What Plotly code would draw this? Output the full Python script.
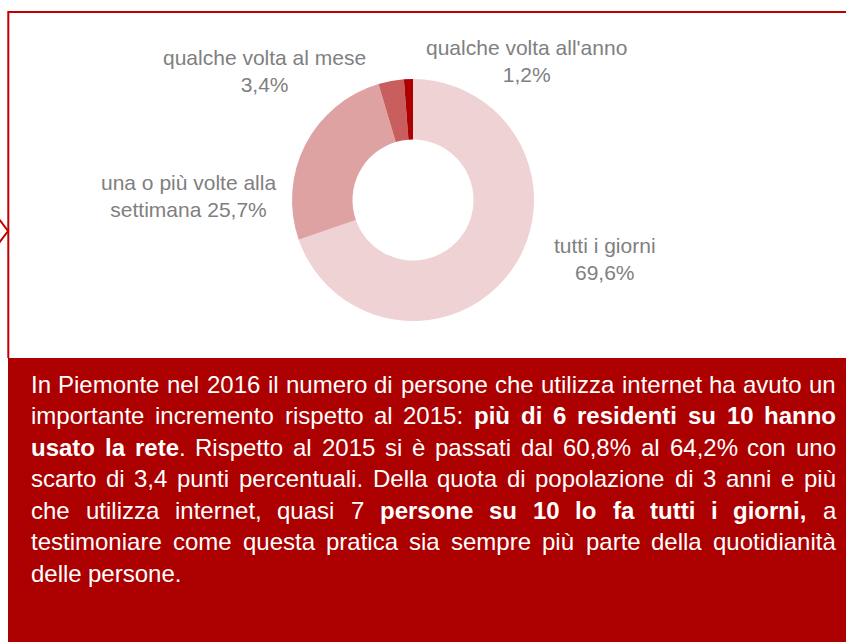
import plotly.graph_objects as go

# ---- data ---------------------------------------------------------------
categories = ["tutti i giorni", "una o più volte alla settimana",
              "qualche volta al mese", "qualche volta all'anno"]
shares = [69.6, 25.7, 3.4, 1.2]
slice_colors = ["#EFD2D3", "#DFA2A2", "#C85E5E", "#AE0000"]
# how each slice label wraps ({v} is replaced by the formatted share)
label_templates = ["tutti i giorni<br>{v}",
                   "una o più volte alla<br>settimana {v}",
                   "qualche volta al mese<br>{v}",
                   "qualche volta all'anno<br>{v}"]

paragraph_lines = [
    "In Piemonte nel 2016 il numero di persone che utilizza internet ha avuto un",
    "importante incremento rispetto al 2015: <b>più di 6 residenti su 10 hanno</b>",
    "<b>usato la rete</b>. Rispetto al 2015 si è passati dal 60,8% al 64,2% con uno",
    "scarto di 3,4 punti percentuali. Della quota di popolazione di 3 anni e più",
    "che utilizza internet, quasi 7 <b>persone su 10 lo fa tutti i giorni,</b> a",
    "testimoniare come questa pratica sia sempre più parte della quotidianità",
    "delle persone.",
]

# ---- layout constants (pixels) -------------------------------------------
W, H = 846, 642
FRAME_RED = "#C00000"
BOX_RED = "#AC0000"
LABEL_GREY = "#808080"
FONT = "Liberation Sans, Arial, sans-serif"
BODY_SIZE = 24
LABEL_SIZE = 21

# donut placement: centre and outer radius
CX, CY, R = 413, 200, 121

# label anchor points (centre of each two-line label)
label_pos = [(605, 259), (188, 196), (264, 71), (526, 61)]

# paragraph geometry
TEXT_LEFT, TEXT_RIGHT = 31, 836
FIRST_LINE_MID, LINE_STEP = 384, 31.5

# Arial / Liberation Sans advance widths (1/1000 em)
REG = {" ": 278, ",": 278, ".": 278, ":": 278, "%": 889, "'": 191}
REG.update({d: 556 for d in "0123456789"})
REG.update(dict(zip("abcdefghijklmnopqrstuvwxyz",
                    [556, 556, 500, 556, 556, 278, 556, 556, 222, 222, 500, 222, 833,
                     556, 556, 556, 556, 333, 500, 278, 556, 500, 722, 500, 500, 500])))
REG.update({"à": 556, "è": 556, "é": 556, "ù": 556, "ì": 278, "ò": 556,
            "I": 278, "P": 667, "D": 722, "R": 722})
BOLD = {" ": 278, ",": 278, ".": 278, ":": 333, "%": 889, "'": 238}
BOLD.update({d: 556 for d in "0123456789"})
BOLD.update(dict(zip("abcdefghijklmnopqrstuvwxyz",
                     [556, 611, 556, 611, 556, 333, 611, 611, 278, 278, 556, 278, 889,
                      611, 611, 611, 611, 389, 556, 333, 611, 556, 778, 556, 556, 500])))
BOLD.update({"à": 556, "è": 556, "é": 556, "ù": 611, "ì": 278, "ò": 611})


def split_words(line):
    """Split a line with <b> tags into words, each a list of (text, bold) runs."""
    words, runs, bold, i, buf = [], [], False, 0, ""
    while i < len(line):
        if line.startswith("<b>", i):
            if buf:
                runs.append((buf, bold)); buf = ""
            bold = True; i += 3; continue
        if line.startswith("</b>", i):
            if buf:
                runs.append((buf, bold)); buf = ""
            bold = False; i += 4; continue
        ch = line[i]
        if ch == " ":
            if buf:
                runs.append((buf, bold)); buf = ""
            if runs:
                words.append(runs); runs = []
        else:
            buf += ch
        i += 1
    if buf:
        runs.append((buf, bold))
    if runs:
        words.append(runs)
    return words


def word_width(runs):
    total = 0
    for text, bold in runs:
        table = BOLD if bold else REG
        total += sum(table.get(c, 556) for c in text)
    return total * BODY_SIZE / 1000.0


def word_markup(runs):
    return "".join(f"<b>{t}</b>" if b else t for t, b in runs)


def fmt_pct(v):
    return f"{v:.1f}".replace(".", ",") + "%"


fig = go.Figure()

# the donut
fig.add_trace(go.Pie(
    labels=categories,
    values=shares,
    sort=False,
    direction="clockwise",
    rotation=0,
    hole=0.5,
    marker=dict(colors=slice_colors, line=dict(width=0)),
    textinfo="none",
    hoverinfo="label+percent",
    showlegend=False,
    domain=dict(x=[(CX - R) / W, (CX + R) / W],
                y=[1 - (CY + R) / H, 1 - (CY - R) / H]),
))

# invisible trace so a pixel-based cartesian frame exists for shapes/text
fig.add_trace(go.Scatter(x=[0, W], y=[0, H], mode="markers",
                         marker=dict(opacity=0), hoverinfo="skip", showlegend=False))

annotations = []

# slice labels
for tpl, v, (lx, ly) in zip(label_templates, shares, label_pos):
    annotations.append(dict(
        x=lx, y=ly, xref="x", yref="y", text=tpl.format(v=fmt_pct(v)),
        showarrow=False, xanchor="center", yanchor="middle", align="center",
        font=dict(family=FONT, size=LABEL_SIZE, color=LABEL_GREY),
        borderpad=0, borderwidth=0,
    ))

# justified paragraph: every word is positioned so each line spans the full width
space_w = REG[" "] * BODY_SIZE / 1000.0
for li, line in enumerate(paragraph_lines):
    words = split_words(line)
    widths = [word_width(w) for w in words]
    last = li == len(paragraph_lines) - 1
    if last or len(words) < 2:
        gap = space_w
    else:
        gap = (TEXT_RIGHT - TEXT_LEFT - sum(widths)) / (len(words) - 1)
    y = FIRST_LINE_MID + li * LINE_STEP
    x = TEXT_LEFT
    for w, wd in zip(words, widths):
        annotations.append(dict(
            x=x, y=y, xref="x", yref="y", text=word_markup(w),
            showarrow=False, xanchor="left", yanchor="middle", align="left",
            font=dict(family=FONT, size=BODY_SIZE, color="white"),
            borderpad=0, borderwidth=0,
        ))
        x += wd + gap

shapes = [
    # text panel
    dict(type="rect", xref="x", yref="y", x0=8, x1=W + 2, y0=358, y1=H + 2,
         fillcolor=BOX_RED, line=dict(width=0), layer="below"),
    # frame around the chart area
    dict(type="line", xref="x", yref="y", x0=8, x1=W + 2, y0=12, y1=12,
         line=dict(color=FRAME_RED, width=2)),
    dict(type="line", xref="x", yref="y", x0=8.3, x1=8.3, y0=11, y1=358,
         line=dict(color=FRAME_RED, width=2)),
    # pointer on the left edge
    dict(type="path", xref="x", yref="y", path="M -1 219 L 8 231 L -1 243",
         line=dict(color=FRAME_RED, width=2)),
]

fig.update_layout(
    width=W, height=H,
    margin=dict(l=0, r=0, t=0, b=0),
    paper_bgcolor="white", plot_bgcolor="rgba(0,0,0,0)",
    xaxis=dict(range=[0, W], visible=False, fixedrange=True),
    yaxis=dict(range=[H, 0], visible=False, fixedrange=True),
    annotations=annotations,
    shapes=shapes,
    showlegend=False,
)

fig.write_html("out.html")
